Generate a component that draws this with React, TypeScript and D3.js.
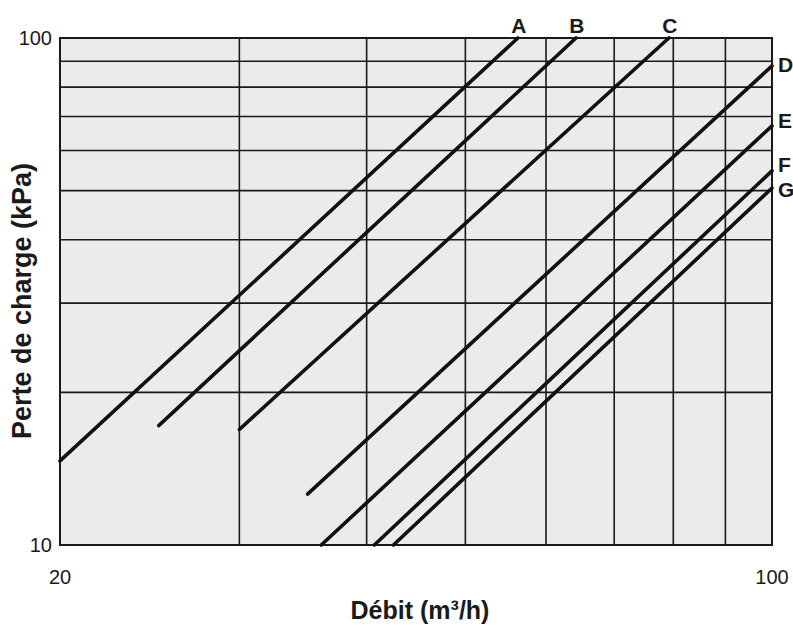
import React from 'react';
import * as d3 from 'd3';

const curveNames = ['A', 'B', 'C', 'D', 'E', 'F', 'G'];
const startFlow = [20, 25, 30, 35, 36.1, 40.7, 42.5];
const startLoss = [14.65, 17.2, 16.9, 12.6, 10, 10, 10];
const endFlow = [56.3, 64.2, 79.2, 100, 100, 100, 100];
const endLoss = [100, 100, 100, 88.1, 67.1, 54.7, 50.6];

const xGrid = [20, 30, 40, 50, 60, 70, 80, 90, 100];
const yGrid = [10, 20, 30, 40, 50, 60, 70, 80, 90, 100];
const xTickLabels = [20, 100];
const yTickLabels = [10, 100];

const W = 793;
const H = 628;
const L = 60, R = 772, T = 38, B = 545;

export default function App() {
  const x = d3.scaleLog().domain([20, 100]).range([L, R]);
  const y = d3.scaleLog().domain([10, 100]).range([B, T]);
  const line = d3.line<[number, number]>().x(d => x(d[0])).y(d => y(d[1]));
  const font = 'Arial, "Liberation Sans", Helvetica, sans-serif';
  const rightLabelDy = [6, 2, 1, 9];

  return (
    <svg width={W} height={H} style={{ position: 'absolute', left: 0, top: 0, background: '#fff' }} fontFamily={font}>
      <rect x={L} y={T} width={R - L} height={B - T} fill="#ebebeb" />
      {xGrid.map(v => (
        <line key={'gx' + v} x1={x(v)} x2={x(v)} y1={T} y2={B} stroke="#1a1a1a" strokeWidth={1.6} />
      ))}
      {yGrid.map(v => (
        <line key={'gy' + v} x1={L} x2={R} y1={y(v)} y2={y(v)} stroke="#1a1a1a" strokeWidth={1.6} />
      ))}
      <rect x={L} y={T} width={R - L} height={B - T} fill="none" stroke="#1a1a1a" strokeWidth={2} />
      {curveNames.map((n, i) => (
        <path key={'c' + n}
          d={line([[startFlow[i], startLoss[i]], [endFlow[i], endLoss[i]]]) || ''}
          stroke="#111" strokeWidth={3.6} fill="none" strokeLinecap="round" />
      ))}
      {curveNames.map((n, i) => {
        if (endLoss[i] >= 100) {
          return (
            <text key={'l' + n} x={x(endFlow[i]) + 1} y={33} textAnchor="middle" fontWeight="bold" fontSize={21} fill="#1a1a1a">{n}</text>
          );
        }
        return (
          <text key={'l' + n} x={778} y={y(endLoss[i]) + rightLabelDy[i - 3]} textAnchor="start" fontWeight="bold" fontSize={21} fill="#1a1a1a">{n}</text>
        );
      })}
      {yTickLabels.map(v => (
        <text key={'yt' + v} x={52} y={y(v) + 7} textAnchor="end" fontSize={20} fill="#1a1a1a">{v}</text>
      ))}
      {xTickLabels.map(v => (
        <text key={'xt' + v} x={x(v)} y={584} textAnchor="middle" fontSize={20} fill="#1a1a1a">{v}</text>
      ))}
      <text x={420} y={619} textAnchor="middle" fontWeight="bold" fontSize={25} fill="#1a1a1a">Débit (m³/h)</text>
      <text transform={`translate(31,${301}) rotate(-90)`} textAnchor="middle" fontWeight="bold" fontSize={27} fill="#1a1a1a">Perte de charge (kPa)</text>
    </svg>
  );
}
